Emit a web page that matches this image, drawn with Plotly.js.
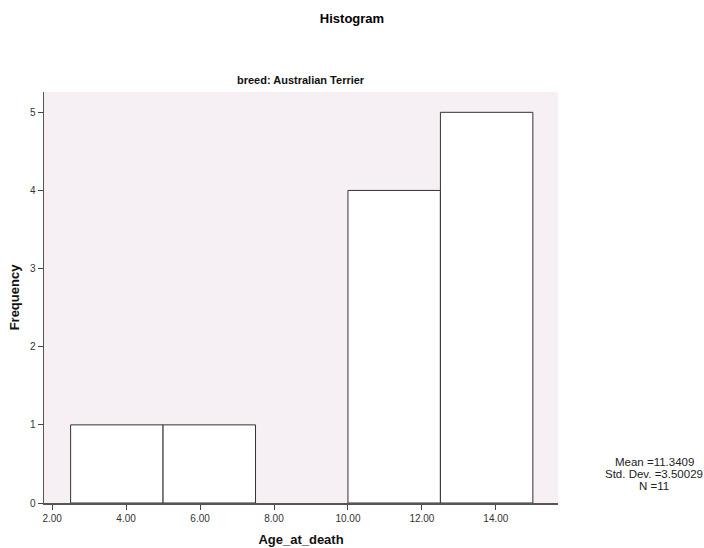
<!DOCTYPE html>
<html>
<head>
<meta charset="utf-8">
<script src="https://cdn.plot.ly/plotly-3.0.1.min.js"></script>
<style>html,body{margin:0;padding:0;background:#fff;}#chart{width:704px;height:548px;}</style>
</head>
<body>
<div id="chart"></div>
<script>
const binStarts = [2.5, 5.0, 10.0, 12.5];
const binWidth = 2.5;
const counts = [1, 1, 4, 5];
const xTickVals = [2, 4, 6, 8, 10, 12, 14];
const xTickText = ["2.00", "4.00", "6.00", "8.00", "10.00", "12.00", "14.00"];
const yTickVals = [0, 1, 2, 3, 4, 5];
const statsLines = ["Mean =11.3409", "Std. Dev. =3.50029", "N =11"];

const centers = binStarts.map(s => s + binWidth / 2);
const font = "Liberation Sans, Arial, sans-serif";

const trace = {
  type: "bar",
  x: centers,
  y: counts,
  width: binStarts.map(() => binWidth),
  marker: { color: "#ffffff", line: { color: "#333333", width: 1 } },
  hoverinfo: "skip"
};

const statsAnn = statsLines.map((t, i) => ({
  text: t, xref: "paper", yref: "paper", x: 1, xshift: 96, y: 0, yshift: 41 - i * 12,
  xanchor: "center", yanchor: "middle", showarrow: false, borderpad: 0,
  font: { size: 11.5, color: "#222" }
}));

const layout = {
  width: 704, height: 548,
  margin: { l: 44, r: 146, t: 92, b: 45 },
  paper_bgcolor: "#ffffff",
  plot_bgcolor: "#f6f0f5",
  showlegend: false,
  font: { family: font, color: "#222222", size: 11 },
  title: { text: "<b>Histogram</b>", x: 0.5, xanchor: "center", y: 0.967, yanchor: "middle", font: { family: font, size: 13, color: "#000" } },
  xaxis: {
    range: [1.78, 15.68],
    tickvals: xTickVals, ticktext: xTickText,
    ticks: "outside", ticklen: 5, tickcolor: "#444", tickwidth: 1,
    showgrid: false, zeroline: false,
    showline: true, linecolor: "#555", linewidth: 1.5,
    tickfont: { size: 10, color: "#333" },
    title: { text: "<b>Age_at_death</b>", font: { size: 13, color: "#111" }, standoff: 12 }
  },
  yaxis: {
    range: [0, 5.26],
    tickvals: yTickVals,
    ticks: "outside", ticklen: 5, tickcolor: "#444", tickwidth: 1,
    showgrid: false, zeroline: false,
    showline: true, linecolor: "#555", linewidth: 1.5,
    tickfont: { size: 10, color: "#333" },
    title: { text: "<b>Frequency</b>", font: { size: 13, color: "#111" }, standoff: 7 }
  },
  annotations: [
    { text: "<b>breed: Australian Terrier</b>", xref: "paper", yref: "paper", x: 0.5, y: 1, yshift: 12, xanchor: "center", yanchor: "middle", showarrow: false, font: { size: 11, color: "#111" } }
  ].concat(statsAnn)
};

Plotly.newPlot("chart", [trace], layout, { displayModeBar: false, staticPlot: true });
</script>
</body>
</html>
